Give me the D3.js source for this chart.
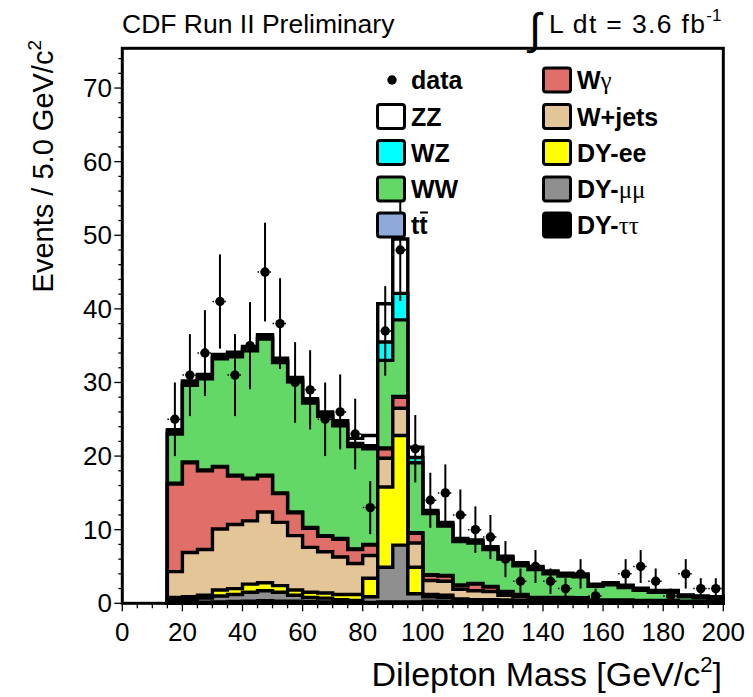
<!DOCTYPE html>
<html><head><meta charset="utf-8">
<script src="https://cdn.jsdelivr.net/npm/d3@7"></script>
<style>body{margin:0;background:#fff}svg{display:block}text{font-family:"Liberation Sans",Arial,sans-serif}</style>
</head><body><svg id="c" width="753" height="697"></svg>
<script>
// Bin low edges (GeV/c^2), bin width 5
const binLow = [15,20,25,30,35,40,45,50,55,60,65,70,75,80,85,90,95,100,105,110,115,120,125,130,135,140,145,150,155,160,165,170,175,180,185,190,195];
const binWidth = 5;
// Stack components (bottom -> top)
const dyTauTau = [0.1,0.1,0.15,0.2,0.25,0.3,0.35,0.3,0.3,0.25,0.2,0.15,0.1,0.1,0.2,0.2,0.2,0.3,0.3,0.3,0.3,0.3,0.25,0.2,0.2,0.2,0.2,0.2,0.1,0.1,0.1,0.1,0.1,0.1,0.05,0.05,0.05];
const dyMuMu = [0.3,0.4,0.55,0.8,0.95,1.2,1.35,1.2,0.8,0.55,0.5,0.35,0.3,0.8,4.7,7.7,1.1,0.6,0.5,0.2,0.1,0.1,0.1,0.1,0.05,0.05,0.05,0.05,0.05,0.05,0.05,0.02,0.02,0.02,0.03,0.03,0.03];
const dyEE = [0.4,0.4,0.4,0.8,0.8,1.1,1.1,0.9,0.7,0.7,0.7,0.7,0.8,2.5,10.9,14.9,3.6,0.3,0.3,0.1,0.1,0.1,0.1,0.1,0.05,0.05,0.05,0.05,0.05,0.05,0.05,0.03,0.03,0.03,0.02,0.02,0.02];
const wJets = [3.5,6.0,6.2,8.3,8.7,8.6,9.6,8.6,7.4,6.1,5.6,5.1,4.2,3.1,3.9,3.7,3.3,1.9,1.9,1.3,1.2,1.1,0.65,0.5,0.3,0.3,0.3,0.25,0.1,0.1,0.1,0.1,0.1,0.1,0.05,0.05,0.05];
const wGamma = [11.9,12.2,10.7,8.4,6.6,5.7,4.9,3.9,3.1,2.6,2.1,2.4,1.9,1.4,1.3,1.5,1.3,0.7,0.7,0.5,0.9,0.6,0.4,0.2,0.1,0.1,0.1,0.1,0.05,0.05,0.05,0.05,0.05,0.05,0.05,0.05,0.05];
const ttbar = [0.1,0.1,0.1,0.1,0.1,0.1,0.1,0.1,0.1,0.1,0.1,0.1,0.1,0.1,0.1,0.1,0.1,0.1,0.1,0.1,0.1,0.1,0.1,0.1,0.1,0.1,0.1,0.1,0.1,0.1,0.1,0.1,0.1,0.1,0.1,0.1,0.1];
const ww = [6.7,10.4,12.4,14.6,16.1,17.3,18.5,17.7,17.7,16.9,16.2,15.3,13.9,13.0,11.9,10.4,9.5,8.3,6.7,5.9,5.5,5.0,4.4,3.9,3.8,3.2,2.9,2.85,1.85,2.05,1.7,1.35,1.1,1.1,0.6,0.45,0.35];
const wz = [0.3,0.3,0.3,0.3,0.3,0.3,0.3,0.3,0.3,0.3,0.3,0.3,0.4,0.4,2.5,3.6,0.7,0.2,0.2,0.2,0.2,0.2,0.2,0.2,0.2,0.2,0.2,0.2,0.15,0.15,0.15,0.15,0.15,0.15,0.15,0.15,0.15];
const zz = [0.3,0.3,0.3,0.3,0.3,0.3,0.3,0.3,0.3,0.3,0.3,0.4,0.7,1.4,5.2,7.4,1.4,0.2,0.3,0.2,0.2,0.2,0.2,0.2,0.2,0.2,0.2,0.2,0.15,0.15,0.15,0.15,0.1,0.1,0.1,0.1,0.1];
// Observed data per bin
const dataCounts = [25,31,34,41,31,35,45,38,30,29,25,26,23,13,37,48,21,14,15,12,10,9,6,3,5,3,2,4,1,0,4,5,3,1,4,2,2];
// Axis ticks
const xTicks = [0,20,40,60,80,100,120,140,160,180,200];
const yTicks = [0,10,20,30,40,50,60,70];

const components = [
  {name:"DY-ττ", vals:dyTauTau, color:"#000000"},
  {name:"DY-μμ", vals:dyMuMu, color:"#8f8f8f"},
  {name:"DY-ee", vals:dyEE, color:"#ffff00"},
  {name:"W+jets", vals:wJets, color:"#e3c598"},
  {name:"Wγ", vals:wGamma, color:"#df6f68"},
  {name:"tt", vals:ttbar, color:"#8eaadb"},
  {name:"WW", vals:ww, color:"#64d867"},
  {name:"WZ", vals:wz, color:"#00ffff"},
  {name:"ZZ", vals:zz, color:"#ffffff"}
];

const svg = d3.select("#c");
const x = d3.scaleLinear().domain([0,200]).range([122.3,723.3]);
const y = d3.scaleLinear().domain([0,75.4]).range([603.3,48.3]);

let cum = binLow.map(()=>0);
components.forEach(c=>{ c.cum = c.vals.map((v,i)=> cum[i] + v); cum = c.cum; });

function histPath(c){
  const pts=[];
  pts.push([x(binLow[0]), y(0)]);
  binLow.forEach((b,i)=>{ pts.push([x(b), y(c[i])]); pts.push([x(b+binWidth), y(c[i])]); });
  pts.push([x(binLow[binLow.length-1]+binWidth), y(0)]);
  return d3.line()(pts) + "Z";
}

const gH = svg.append("g");
components.slice().reverse().forEach(c=>{
  gH.append("path").attr("d", histPath(c.cum)).attr("fill", c.color)
    .attr("stroke","#000").attr("stroke-width",3.4).attr("stroke-linejoin","miter");
});

// data points
const gD = svg.append("g");
dataCounts.forEach((n,i)=>{
  if(n<=0) return;
  const cx = x(binLow[i]+binWidth/2), cy = y(n), e = Math.sqrt(n);
  gD.append("line").attr("x1",cx).attr("x2",cx).attr("y1",y(n+e)).attr("y2",y(Math.max(0,n-e)))
    .attr("stroke","#000").attr("stroke-width",2);
  gD.append("line").attr("x1",cx-7.5).attr("x2",cx+7.5).attr("y1",cy).attr("y2",cy)
    .attr("stroke","#000").attr("stroke-width",1.5).attr("stroke-dasharray","1.5,1.5");
  gD.append("circle").attr("cx",cx).attr("cy",cy).attr("r",4.7).attr("fill","#000");
});

// frame
svg.append("rect").attr("x",x(0)).attr("y",y(75.4)).attr("width",x(200)-x(0)).attr("height",y(0)-y(75.4))
  .attr("fill","none").attr("stroke","#000").attr("stroke-width",3);

// x axis ticks
const gx = svg.append("g");
for(let v=0; v<=200; v+=5){
  const major = v%20===0;
  gx.append("line").attr("x1",x(v)).attr("x2",x(v)).attr("y1",y(0)).attr("y2",y(0)+(major?8:5))
    .attr("stroke","#000").attr("stroke-width",1.3);
}
xTicks.forEach(v=>{
  gx.append("text").attr("x",x(v)).attr("y",641).attr("text-anchor","middle")
    .attr("font-size",26).text(v);
});
// y axis ticks
const gy = svg.append("g");
for(let v=0; v<=74; v+=2){
  const major = v%10===0;
  gy.append("line").attr("x1",x(0)).attr("x2",x(0)-(major?8:4)).attr("y1",y(v)).attr("y2",y(v))
    .attr("stroke","#000").attr("stroke-width",1.3);
}
yTicks.forEach(v=>{
  gy.append("text").attr("x",112).attr("y",y(v)+9).attr("text-anchor","end")
    .attr("font-size",26).text(v);
});

// axis titles
const xt = svg.append("text").attr("x",722).attr("y",686).attr("text-anchor","end").attr("font-size",34);
xt.append("tspan").text("Dilepton Mass [GeV/c");
xt.append("tspan").attr("dy",-14).attr("font-size",22).text("2");
xt.append("tspan").attr("dy",14).text("]");

const yt = svg.append("text").attr("transform","translate(53,40) rotate(-90)").attr("text-anchor","end").attr("font-size",29);
yt.append("tspan").text("Events / 5.0 GeV/c");
yt.append("tspan").attr("dy",-12).attr("font-size",19).text("2");

// header
svg.append("text").attr("x",122).attr("y",33).attr("font-size",26.5).text("CDF Run II Preliminary");
svg.append("text").attr("x",529).attr("y",44).attr("font-size",44).attr("font-family","DejaVu Sans").text("∫");
const lum = svg.append("text").attr("x",549).attr("y",33).attr("font-size",26.5);
lum.append("tspan").attr("textLength",156).attr("lengthAdjust","spacing").text("L dt = 3.6 fb");
lum.append("tspan").attr("dy",-12).attr("font-size",17).text("-1");

// legend
const legendLeft = [
  {label:"data", kind:"data"},
  {label:"ZZ", color:"#ffffff"},
  {label:"WZ", color:"#00ffff"},
  {label:"WW", color:"#64d867"},
  {label:"tt", color:"#8eaadb", kind:"tt"}
];
const legendRight = [
  {label:"W", greek:"γ", color:"#df6f68"},
  {label:"W+jets", color:"#e3c598"},
  {label:"DY-ee", color:"#ffff00"},
  {label:"DY-", greek:"μμ", color:"#8f8f8f"},
  {label:"DY-", greek:"ττ", color:"#000000"}
];
const rowY = [80,116.5,152.5,189,225];
const gL = svg.append("g");
function drawLegend(items, bx){
  items.forEach((it,i)=>{
    const cy = rowY[i];
    if(it.kind==="data"){
      gL.append("circle").attr("cx",bx+16).attr("cy",cy).attr("r",4.7).attr("fill","#000");
    } else {
      gL.append("rect").attr("x",bx+1.5).attr("y",cy-12).attr("width",27).attr("height",24).attr("rx",2.5)
        .attr("fill",it.color).attr("stroke","#000").attr("stroke-width",3);
    }
    const t = gL.append("text").attr("x",bx+35).attr("y",cy+9).attr("font-size",25).attr("font-weight","bold");
    if(it.kind==="tt"){
      t.append("tspan").text("tt");
      gL.append("line").attr("x1",bx+44).attr("x2",bx+52).attr("y1",cy-12.5).attr("y2",cy-12.5).attr("stroke","#000").attr("stroke-width",2);
    } else {
      t.append("tspan").text(it.label);
      if(it.greek) t.append("tspan").attr("font-family","Liberation Serif, DejaVu Serif, serif").attr("font-weight","normal").attr("font-size",25).text(it.greek);
    }
  });
}
drawLegend(legendLeft, 376);
drawLegend(legendRight, 542);
</script></body></html>
